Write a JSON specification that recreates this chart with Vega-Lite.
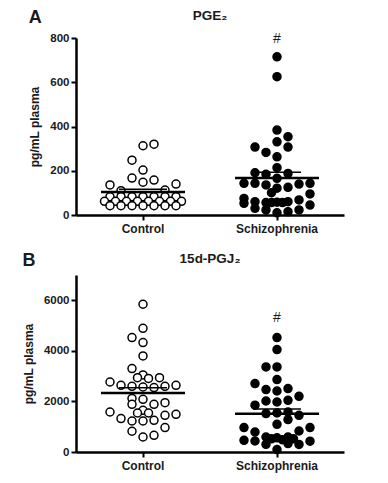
{
  "$schema": "https://vega.github.io/schema/vega-lite/v6.json",
  "padding": {"left": 22, "top": 8, "right": 5, "bottom": 5},
  "background": "white",
  "config": {
    "font": "Liberation Sans",
    "view": {"stroke": null},
    "axis": {
      "grid": false,
      "domainColor": "black",
      "domainWidth": 2.5,
      "tickColor": "black",
      "tickWidth": 2,
      "tickSize": 5,
      "labelFont": "Liberation Sans",
      "labelFontWeight": "bold",
      "labelColor": "#1a1a1a",
      "titleFont": "Liberation Sans",
      "titleFontWeight": "bold",
      "titleFontSize": 12,
      "titleColor": "#1a1a1a"
    },
    "title": {"font": "Liberation Sans", "fontWeight": "bold", "color": "#1a1a1a"}
  },
  "datasets": {
    "pge2": [
      {"group": "Control", "value": 320, "jitter": 1},
      {"group": "Control", "value": 313, "jitter": 0},
      {"group": "Control", "value": 248, "jitter": -1},
      {"group": "Control", "value": 203, "jitter": 0},
      {"group": "Control", "value": 167, "jitter": -1},
      {"group": "Control", "value": 158, "jitter": 1},
      {"group": "Control", "value": 148, "jitter": 0},
      {"group": "Control", "value": 136, "jitter": -3},
      {"group": "Control", "value": 140, "jitter": 3},
      {"group": "Control", "value": 110, "jitter": -2},
      {"group": "Control", "value": 113, "jitter": 2},
      {"group": "Control", "value": 83, "jitter": -3},
      {"group": "Control", "value": 83, "jitter": -2},
      {"group": "Control", "value": 83, "jitter": -1},
      {"group": "Control", "value": 83, "jitter": 0},
      {"group": "Control", "value": 83, "jitter": 1},
      {"group": "Control", "value": 83, "jitter": 2},
      {"group": "Control", "value": 83, "jitter": 3},
      {"group": "Control", "value": 62, "jitter": -3.5},
      {"group": "Control", "value": 62, "jitter": -2.5},
      {"group": "Control", "value": 62, "jitter": -1.5},
      {"group": "Control", "value": 62, "jitter": -0.5},
      {"group": "Control", "value": 62, "jitter": 0.5},
      {"group": "Control", "value": 62, "jitter": 1.5},
      {"group": "Control", "value": 62, "jitter": 2.5},
      {"group": "Control", "value": 62, "jitter": 3.5},
      {"group": "Control", "value": 42, "jitter": -3},
      {"group": "Control", "value": 42, "jitter": -2},
      {"group": "Control", "value": 42, "jitter": -1},
      {"group": "Control", "value": 42, "jitter": 0},
      {"group": "Control", "value": 42, "jitter": 1},
      {"group": "Control", "value": 42, "jitter": 2},
      {"group": "Control", "value": 42, "jitter": 3},
      {"group": "Schizophrenia", "value": 715, "jitter": 0},
      {"group": "Schizophrenia", "value": 625, "jitter": 0},
      {"group": "Schizophrenia", "value": 384, "jitter": 0},
      {"group": "Schizophrenia", "value": 354, "jitter": 1},
      {"group": "Schizophrenia", "value": 331, "jitter": 0},
      {"group": "Schizophrenia", "value": 307, "jitter": -2},
      {"group": "Schizophrenia", "value": 307, "jitter": 1},
      {"group": "Schizophrenia", "value": 283, "jitter": -1},
      {"group": "Schizophrenia", "value": 263, "jitter": 0},
      {"group": "Schizophrenia", "value": 214, "jitter": 0},
      {"group": "Schizophrenia", "value": 191, "jitter": -2},
      {"group": "Schizophrenia", "value": 184, "jitter": -1},
      {"group": "Schizophrenia", "value": 188, "jitter": 1},
      {"group": "Schizophrenia", "value": 166, "jitter": 0},
      {"group": "Schizophrenia", "value": 143, "jitter": -3},
      {"group": "Schizophrenia", "value": 143, "jitter": -2},
      {"group": "Schizophrenia", "value": 136, "jitter": -1},
      {"group": "Schizophrenia", "value": 121, "jitter": 0},
      {"group": "Schizophrenia", "value": 125, "jitter": 1},
      {"group": "Schizophrenia", "value": 140, "jitter": 2},
      {"group": "Schizophrenia", "value": 143, "jitter": 3},
      {"group": "Schizophrenia", "value": 101, "jitter": -0.5},
      {"group": "Schizophrenia", "value": 95, "jitter": 3},
      {"group": "Schizophrenia", "value": 75, "jitter": -3},
      {"group": "Schizophrenia", "value": 53, "jitter": -3},
      {"group": "Schizophrenia", "value": 60, "jitter": -2},
      {"group": "Schizophrenia", "value": 30, "jitter": -2},
      {"group": "Schizophrenia", "value": 56, "jitter": -1},
      {"group": "Schizophrenia", "value": 56, "jitter": -0.5},
      {"group": "Schizophrenia", "value": 58, "jitter": 0},
      {"group": "Schizophrenia", "value": 56, "jitter": 0.5},
      {"group": "Schizophrenia", "value": 60, "jitter": 1},
      {"group": "Schizophrenia", "value": 68, "jitter": 2},
      {"group": "Schizophrenia", "value": 45, "jitter": 3},
      {"group": "Schizophrenia", "value": 23, "jitter": -1},
      {"group": "Schizophrenia", "value": 10, "jitter": 0},
      {"group": "Schizophrenia", "value": 15, "jitter": 1},
      {"group": "Schizophrenia", "value": 23, "jitter": 2}
    ],
    "pgj2": [
      {"group": "Control", "value": 5843, "jitter": 0},
      {"group": "Control", "value": 4893, "jitter": 0},
      {"group": "Control", "value": 4525, "jitter": -1},
      {"group": "Control", "value": 4327, "jitter": 0},
      {"group": "Control", "value": 3798, "jitter": 0},
      {"group": "Control", "value": 3299, "jitter": -1},
      {"group": "Control", "value": 3050, "jitter": 0},
      {"group": "Control", "value": 2940, "jitter": -0.5},
      {"group": "Control", "value": 2910, "jitter": 0.5},
      {"group": "Control", "value": 2940, "jitter": 1.5},
      {"group": "Control", "value": 2769, "jitter": -3},
      {"group": "Control", "value": 2638, "jitter": -2},
      {"group": "Control", "value": 2599, "jitter": -1},
      {"group": "Control", "value": 2571, "jitter": 0},
      {"group": "Control", "value": 2547, "jitter": 1},
      {"group": "Control", "value": 2599, "jitter": 2},
      {"group": "Control", "value": 2638, "jitter": 3},
      {"group": "Control", "value": 2120, "jitter": -1},
      {"group": "Control", "value": 2085, "jitter": 0},
      {"group": "Control", "value": 1887, "jitter": -1},
      {"group": "Control", "value": 1887, "jitter": 1},
      {"group": "Control", "value": 1950, "jitter": 2},
      {"group": "Control", "value": 1650, "jitter": 0},
      {"group": "Control", "value": 1543, "jitter": -0.5},
      {"group": "Control", "value": 1543, "jitter": 0.5},
      {"group": "Control", "value": 1582, "jitter": -3},
      {"group": "Control", "value": 1321, "jitter": -2},
      {"group": "Control", "value": 1226, "jitter": -1},
      {"group": "Control", "value": 1226, "jitter": 0},
      {"group": "Control", "value": 1254, "jitter": 1},
      {"group": "Control", "value": 1452, "jitter": 2},
      {"group": "Control", "value": 1491, "jitter": 3},
      {"group": "Control", "value": 965, "jitter": 2},
      {"group": "Control", "value": 820, "jitter": -1},
      {"group": "Control", "value": 593, "jitter": 0},
      {"group": "Control", "value": 661, "jitter": 1},
      {"group": "Schizophrenia", "value": 4525, "jitter": 0},
      {"group": "Schizophrenia", "value": 4050, "jitter": 0},
      {"group": "Schizophrenia", "value": 3363, "jitter": -1},
      {"group": "Schizophrenia", "value": 3363, "jitter": 0},
      {"group": "Schizophrenia", "value": 2864, "jitter": 0},
      {"group": "Schizophrenia", "value": 2705, "jitter": -2},
      {"group": "Schizophrenia", "value": 2468, "jitter": -1},
      {"group": "Schizophrenia", "value": 2413, "jitter": 0},
      {"group": "Schizophrenia", "value": 2508, "jitter": 1},
      {"group": "Schizophrenia", "value": 2203, "jitter": 2},
      {"group": "Schizophrenia", "value": 2017, "jitter": -1},
      {"group": "Schizophrenia", "value": 1978, "jitter": 0},
      {"group": "Schizophrenia", "value": 2045, "jitter": 1},
      {"group": "Schizophrenia", "value": 1850, "jitter": -2},
      {"group": "Schizophrenia", "value": 1519, "jitter": -1},
      {"group": "Schizophrenia", "value": 1543, "jitter": 0},
      {"group": "Schizophrenia", "value": 1582, "jitter": 1},
      {"group": "Schizophrenia", "value": 1452, "jitter": 2},
      {"group": "Schizophrenia", "value": 1282, "jitter": 1},
      {"group": "Schizophrenia", "value": 1096, "jitter": 0},
      {"group": "Schizophrenia", "value": 965, "jitter": -3},
      {"group": "Schizophrenia", "value": 791, "jitter": -2},
      {"group": "Schizophrenia", "value": 831, "jitter": 2},
      {"group": "Schizophrenia", "value": 965, "jitter": 3},
      {"group": "Schizophrenia", "value": 463, "jitter": -3},
      {"group": "Schizophrenia", "value": 435, "jitter": -2},
      {"group": "Schizophrenia", "value": 593, "jitter": -1},
      {"group": "Schizophrenia", "value": 520, "jitter": -0.5},
      {"group": "Schizophrenia", "value": 560, "jitter": 0},
      {"group": "Schizophrenia", "value": 480, "jitter": 0.5},
      {"group": "Schizophrenia", "value": 593, "jitter": 1},
      {"group": "Schizophrenia", "value": 520, "jitter": 1.5},
      {"group": "Schizophrenia", "value": 430, "jitter": 3},
      {"group": "Schizophrenia", "value": 304, "jitter": -1},
      {"group": "Schizophrenia", "value": 332, "jitter": 1},
      {"group": "Schizophrenia", "value": 300, "jitter": 2},
      {"group": "Schizophrenia", "value": 95, "jitter": 0}
    ],
    "markA": [{"group": "Schizophrenia", "value": 795, "label": "#"}],
    "markB": [{"group": "Schizophrenia", "value": 5300, "label": "#"}]
  },
  "spacing": 17,
  "vconcat": [
    {
      "title": {"text": "A", "anchor": "start", "fontSize": 18, "offset": -18},
      "vconcat": [
        {
          "width": 268,
          "height": 177,
          "title": {"text": "PGE₂", "fontSize": 13.5, "anchor": "middle", "offset": 10},
          "encoding": {
            "x": {
              "field": "group", "type": "nominal",
              "scale": {"domain": ["Control", "Schizophrenia"], "paddingInner": 0, "paddingOuter": 0},
              "axis": {"title": null, "labelAngle": 0, "labelFontSize": 12, "labelPadding": 3}
            },
            "y": {
              "field": "value", "type": "quantitative",
              "scale": {"domain": [0, 800], "nice": false},
              "axis": {"values": [0, 200, 400, 600, 800], "format": "d", "title": "pg/mL plasma", "labelFontSize": 11.5, "labelPadding": 2, "titlePadding": 8}
            }
          },
          "layer": [
            {
              "data": {"name": "pge2"},
              "mark": {"type": "circle", "size": 64, "stroke": "black", "strokeWidth": 1.5, "opacity": 1},
              "encoding": {
                "xOffset": {"field": "jitter", "type": "quantitative", "scale": {"domain": [-6.09, 6.09]}},
                "fill": {"field": "group", "type": "nominal", "scale": {"domain": ["Control", "Schizophrenia"], "range": ["white", "black"]}, "legend": null}
              }
            },
            {
              "data": {"name": "pge2"},
              "transform": [
                {"aggregate": [{"op": "mean", "field": "value", "as": "mean"}, {"op": "stderr", "field": "value", "as": "se"}], "groupby": ["group"]},
                {"calculate": "datum.mean + datum.se", "as": "upper"}
              ],
              "layer": [
                {"mark": {"type": "tick", "orient": "horizontal", "size": 84, "thickness": 2.5, "color": "black", "opacity": 1}, "encoding": {"y": {"field": "mean", "type": "quantitative"}}},
                {"mark": {"type": "tick", "orient": "horizontal", "size": 48, "thickness": 1.5, "color": "black", "opacity": 1}, "encoding": {"y": {"field": "upper", "type": "quantitative"}}}
              ]
            },
            {
              "data": {"name": "markA"},
              "mark": {"type": "text", "fontSize": 14, "color": "#1a1a1a", "baseline": "middle"},
              "encoding": {"text": {"field": "label"}}
            }
          ]
        }
      ]
    },
    {
      "title": {"text": "B", "anchor": "start", "fontSize": 18, "offset": -18},
      "vconcat": [
        {
          "width": 268,
          "height": 177,
          "title": {"text": "15d-PGJ₂", "fontSize": 13.5, "anchor": "middle", "offset": 10},
          "encoding": {
            "x": {
              "field": "group", "type": "nominal",
              "scale": {"domain": ["Control", "Schizophrenia"], "paddingInner": 0, "paddingOuter": 0},
              "axis": {"title": null, "labelAngle": 0, "labelFontSize": 12, "labelPadding": 3}
            },
            "y": {
              "field": "value", "type": "quantitative",
              "scale": {"domain": [0, 7000], "nice": false},
              "axis": {"values": [0, 2000, 4000, 6000], "format": "d", "title": "pg/mL plasma", "labelFontSize": 11.5, "labelPadding": 2, "titlePadding": 8}
            }
          },
          "layer": [
            {
              "data": {"name": "pgj2"},
              "mark": {"type": "circle", "size": 64, "stroke": "black", "strokeWidth": 1.5, "opacity": 1},
              "encoding": {
                "xOffset": {"field": "jitter", "type": "quantitative", "scale": {"domain": [-6.09, 6.09]}},
                "fill": {"field": "group", "type": "nominal", "scale": {"domain": ["Control", "Schizophrenia"], "range": ["white", "black"]}, "legend": null}
              }
            },
            {
              "data": {"name": "pgj2"},
              "transform": [
                {"aggregate": [{"op": "mean", "field": "value", "as": "mean"}, {"op": "stderr", "field": "value", "as": "se"}], "groupby": ["group"]},
                {"calculate": "datum.mean + datum.se", "as": "upper"}
              ],
              "layer": [
                {"mark": {"type": "tick", "orient": "horizontal", "size": 84, "thickness": 2.5, "color": "black", "opacity": 1}, "encoding": {"y": {"field": "mean", "type": "quantitative"}}},
                {"mark": {"type": "tick", "orient": "horizontal", "size": 48, "thickness": 1.5, "color": "black", "opacity": 1}, "encoding": {"y": {"field": "upper", "type": "quantitative"}}}
              ]
            },
            {
              "data": {"name": "markB"},
              "mark": {"type": "text", "fontSize": 14, "color": "#1a1a1a", "baseline": "middle"},
              "encoding": {"text": {"field": "label"}}
            }
          ]
        }
      ]
    }
  ]
}
